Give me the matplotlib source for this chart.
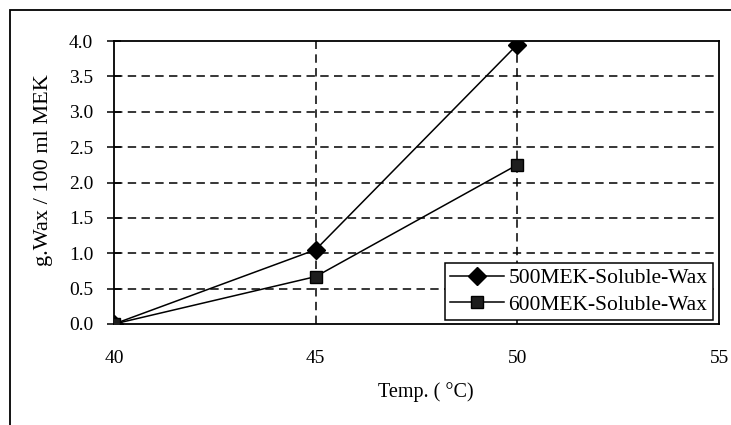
import matplotlib
matplotlib.use("Agg")
import matplotlib.pyplot as plt
from matplotlib.patches import Rectangle

temps = [40, 45, 50]
wax_500 = [0.0, 1.05, 3.95]
wax_600 = [0.0, 0.67, 2.25]
xticks = [40, 45, 50, 55]
yticks = [0.0, 0.5, 1.0, 1.5, 2.0, 2.5, 3.0, 3.5, 4.0]

plt.rcParams['font.family'] = ['Liberation Serif', 'DejaVu Serif']

W, H = 731, 425
fig = plt.figure(figsize=(W/100, H/100), dpi=100)
L, R, T, B = 114, 719, 41, 324
ax = fig.add_axes([L/W, 1-B/H, (R-L)/W, (B-T)/H])

# outer frame
fig.patches.append(Rectangle((10/W, -0.02), 1.0, 1-10/H+0.02, transform=fig.transFigure,
                             fill=False, edgecolor='black', linewidth=1.3))

dash = (0, (5.5, 3.5))
for y in yticks[1:-1]:
    ax.axhline(y, color='black', linestyle=dash, linewidth=1.1, zorder=1)
for x in [45, 50]:
    ax.axvline(x, color='black', linestyle=dash, linewidth=1.1, zorder=1)

ax.plot(temps, wax_500, color='black', linewidth=1.1, marker='D', markersize=9,
        markerfacecolor='black', markeredgecolor='black', label='500MEK-Soluble-Wax', zorder=3)
ax.plot(temps, wax_600, color='black', linewidth=1.1, marker='s', markersize=9,
        markerfacecolor='#1e1e1e', markeredgecolor='black', label='600MEK-Soluble-Wax', zorder=3)

ax.set_xlim(40, 55)
ax.set_ylim(0, 4.0)
ax.set_xticks(xticks)
ax.set_yticks(yticks)
ax.set_yticklabels([f"{v:.1f}" for v in yticks], fontsize=14)
ax.set_xticklabels([str(v) for v in xticks], fontsize=14)
ax.tick_params(axis='y', direction='inout', length=10, width=1.1, pad=10)
ax.tick_params(axis='x', length=0, pad=19)
for s in ax.spines.values():
    s.set_linewidth(1.3)

ax.set_ylabel('g.Wax / 100 ml MEK', fontsize=16)
ax.yaxis.set_label_coords(-0.10, 0.545)
ax.set_xlabel('Temp. ( °C)', fontsize=14.5)
ax.xaxis.set_label_coords(0.515, -0.205)

leg = ax.legend(loc='upper right', bbox_to_anchor=(713/W, 1-263/H),
                bbox_transform=fig.transFigure, fontsize=15.5, frameon=True,
                fancybox=False, edgecolor='black', framealpha=1.0,
                borderpad=0.25, labelspacing=0.3, handlelength=2.5, handletextpad=0.2,
                borderaxespad=0)
leg.get_frame().set_linewidth(1.1)
leg.set_zorder(5)

fig.savefig('out.png', dpi=100)
